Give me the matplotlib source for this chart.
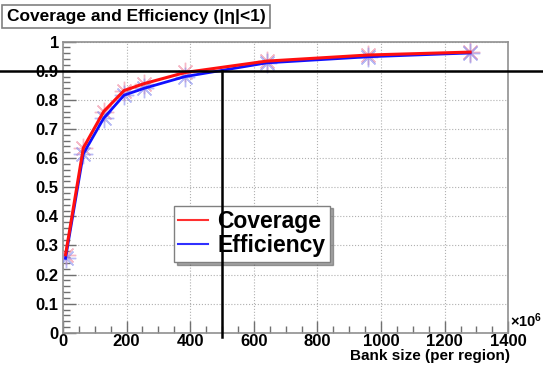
import numpy as np
import matplotlib.pyplot as plt
from matplotlib.ticker import MultipleLocator, FormatStrFormatter
from matplotlib.lines import Line2D

plt.rcParams['font.family'] = ['Liberation Sans', 'DejaVu Sans']
plt.rcParams['font.weight'] = 'bold'
plt.rcParams['mathtext.default'] = 'regular'

# bank size in units of 1e6 patterns
bank_size = [8, 64, 128, 192, 256, 384, 640, 960, 1280]
coverage = [0.268, 0.635, 0.760, 0.832, 0.856, 0.894, 0.933, 0.954, 0.964]
efficiency = [0.256, 0.615, 0.737, 0.816, 0.840, 0.880, 0.927, 0.948, 0.961]

cut_x = 500
cut_y = 0.9

fig = plt.figure(figsize=(5.43, 3.65), dpi=100)
ax = fig.add_axes([0.116, 0.088, 0.82, 0.798])

ax.plot(bank_size, coverage, ls='none', marker=(8, 2, 0), ms=14, mew=1.0,
        color='#f08aa0', alpha=0.6, zorder=3)
ax.plot(bank_size, efficiency, ls='none', marker=(8, 2, 0), ms=14, mew=1.0,
        color='#8a90f0', alpha=0.6, zorder=3)
ax.plot(bank_size, efficiency, color='#1010ff', lw=2.0, zorder=4)
ax.plot(bank_size, coverage, color='#ff1010', lw=2.2, zorder=5)

ax.set_xlim(0, 1400)
ax.set_ylim(0, 1)
ax.xaxis.set_major_locator(MultipleLocator(200))
ax.xaxis.set_minor_locator(MultipleLocator(50))
ax.yaxis.set_major_locator(MultipleLocator(0.1))
ax.yaxis.set_minor_locator(MultipleLocator(0.02))
ax.yaxis.set_major_formatter(FormatStrFormatter('%g'))
ax.tick_params(which='both', direction='in', color='#707070', labelsize=12)
ax.tick_params(axis='x', pad=1)
ax.tick_params(axis='y', pad=3)
ax.tick_params(which='major', length=9, width=1)
ax.tick_params(which='minor', length=5, width=1)
for lab in ax.get_xticklabels() + ax.get_yticklabels():
    lab.set_fontweight('bold')
ax.grid(True, which='major', ls=':', color='#b0b0b0', lw=0.8)
for s in ax.spines.values():
    s.set_color('#909090')
    s.set_linewidth(1.2)

# cut lines: 90% coverage and 500M bank
y_cut_fig = ax.transAxes.transform((0, cut_y))[1] / fig.bbox.height
fig.add_artist(Line2D([0, 1], [y_cut_fig, y_cut_fig], transform=fig.transFigure,
                      color='black', lw=1.8, zorder=10))
ax.plot([cut_x, cut_x], [cut_y, -0.013], color='black', lw=1.8, clip_on=False, zorder=10)

fig.text(0.939, 0.095, r'$\times10^{6}$', fontsize=10.5, ha='left', va='bottom')
fig.text(0.94, 0.026, 'Bank size (per region)', fontsize=11, fontweight='bold',
         ha='right', va='center')

fig.text(0.012, 0.955, 'Coverage and Efficiency (|η|<1)', fontsize=12.5,
         fontweight='bold', ha='left', va='center',
         bbox=dict(boxstyle='square,pad=0.25', fc='white', ec='#808080', lw=1.2))

handles = [Line2D([], [], color='#ff3030', lw=1.5),
           Line2D([], [], color='#3030ff', lw=1.5)]
leg = ax.legend(handles=handles, labels=['Coverage', 'Efficiency'],
                loc='upper left', bbox_to_anchor=(0.249, 0.437),
                prop=dict(size=16.5, weight='bold'), frameon=True, fancybox=False,
                shadow=True, handlelength=1.3, borderpad=0.2, borderaxespad=0,
                labelspacing=0.05, handletextpad=0.4)
leg.get_frame().set_edgecolor('#808080')
leg.set_zorder(8)

fig.savefig('out.png', dpi=100)
